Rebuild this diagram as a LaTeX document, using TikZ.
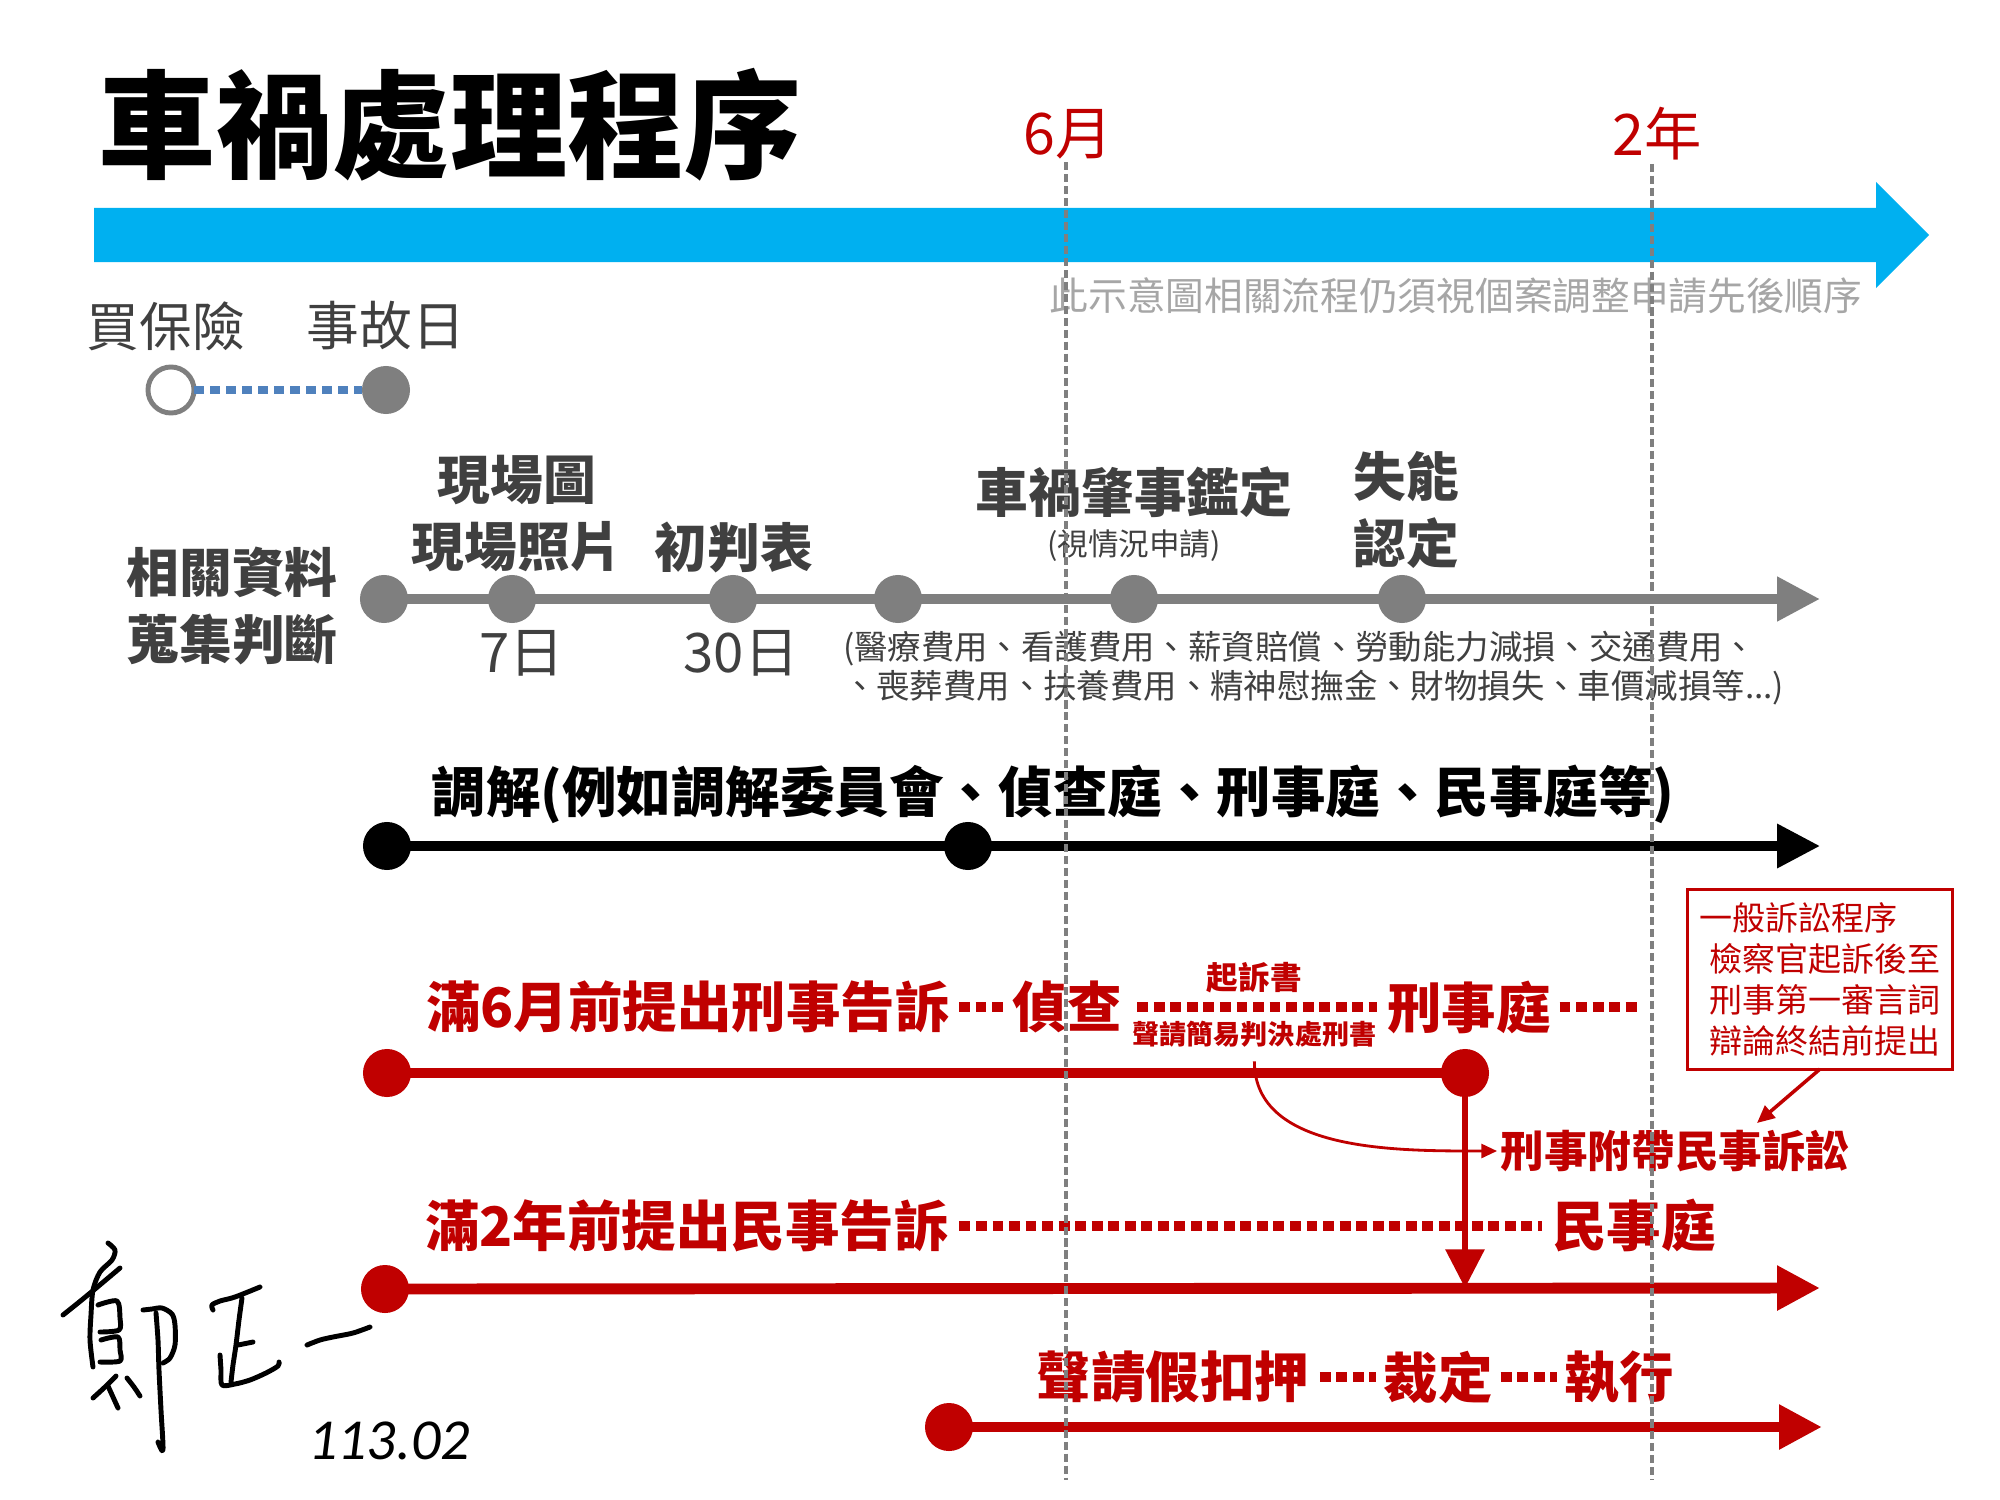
\documentclass[tikz,border=0pt]{standalone}
\usepackage{fontspec}
\setmainfont{Noto Sans CJK TC}
\newfontfamily\datefont{Carlito}
\usetikzlibrary{arrows.meta,positioning}
\definecolor{tlblue}{HTML}{00B0F0}
\definecolor{tlred}{HTML}{C00000}
\definecolor{tlgray}{HTML}{7F7F7F}
\definecolor{txgray}{HTML}{404040}
\definecolor{notegray}{HTML}{A6A6A6}
\definecolor{dotblue}{HTML}{4F81BD}
\tikzstyle{every node}=[inner sep=0pt, outer sep=0pt]
\tikzstyle{ttl}=[font=\fontsize{33.3}{40}\selectfont\bfseries]
\tikzstyle{tmark}=[text=tlred, font=\fontsize{16.3}{20}\selectfont]
\tikzstyle{note}=[text=notegray, font=\fontsize{11}{13}\selectfont]
\tikzstyle{dgreg}=[text=txgray, font=\fontsize{15}{19}\selectfont]
\tikzstyle{dgbold}=[text=txgray, align=center, font=\fontsize{15}{19.06}\selectfont\bfseries]
\tikzstyle{days}=[text=txgray, font=\fontsize{15.5}{19}\selectfont]
\tikzstyle{tinylbl}=[text=txgray, font=\fontsize{8.7}{10}\selectfont]
\tikzstyle{det}=[text=txgray, align=left, font=\fontsize{9.5}{11.1}\selectfont]
\tikzstyle{blk}=[font=\fontsize{15.5}{19}\selectfont\bfseries]
\tikzstyle{rbig}=[text=tlred, font=\fontsize{15.5}{19}\selectfont\bfseries]
\tikzstyle{rmid}=[text=tlred, font=\fontsize{12.4}{15}\selectfont\bfseries]
\tikzstyle{rsml}=[text=tlred, font=\fontsize{9}{11}\selectfont\bfseries]
\tikzstyle{rxs}=[text=tlred, font=\fontsize{7.7}{9}\selectfont\bfseries]
\tikzstyle{rbox}=[draw=tlred, line width=0.85pt, text=tlred, align=left, minimum width=2.64cm, minimum height=1.79cm, font=\fontsize{9.4}{11.6}\selectfont]
\tikzstyle{tdot}=[circle, minimum size=4.8mm]
\tikzstyle{gdot}=[tdot, fill=tlgray]
\tikzstyle{bdot}=[tdot, fill=black]
\tikzstyle{rdot}=[tdot, fill=tlred]
\tikzstyle{odot}=[circle, minimum size=4.6mm, draw=tlgray, line width=1.4pt, fill=white]
\tikzstyle{arrtip}=[-{Triangle[length=12.2pt,width=12pt]}]
\tikzstyle{gline}=[tlgray, line width=2.85pt, arrtip]
\tikzstyle{bline}=[black, line width=2.6pt, arrtip]
\tikzstyle{rline}=[tlred, line width=3.1pt]
\tikzstyle{rdots}=[tlred, line width=2.8pt, dash pattern=on 3.1pt off 1.6pt]
\tikzstyle{bdots}=[dotblue, line width=2.3pt, dash pattern=on 2.85pt off 1.7pt]
\tikzstyle{vdash}=[tlgray, line width=1.3pt, dash pattern=on 2.3pt off 1.1pt]
\tikzstyle{rvert}=[tlred, line width=1.8pt, -{Triangle[length=11pt,width=10.8pt]}]
\tikzstyle{rthin}=[tlred, line width=0.8pt, -{Triangle[length=4.5pt,width=4pt]}]
\tikzstyle{sig}=[line width=1.4pt, line cap=round, line join=round]
\tikzstyle{datelbl}=[font=\datefont\itshape\fontsize{16.5}{20}\selectfont]

\begin{document}
\begin{tikzpicture}[x=0.01cm, y=-0.01cm]
\fill[white] (0,0) rectangle (2000,1500);
\useasboundingbox (0,0) rectangle (2000,1500);

\node[ttl] (ttl) at (450,125) {車禍處理程序};
\node[tmark] (m6) at (1068,134) {6月};
\node[tmark] (y2) at (1657,134) {2年};
\fill[tlblue] (94,208) -- (1876,208) -- (1876,182) -- (1929,235) -- (1876,288) -- (1876,262) -- (94,262) -- cycle;
\node[note] (nt) at (1456,296) {此示意圖相關流程仍須視個案調整申請先後順序};

\node[dgreg] (buy) at (166,326) {買保險};
\node[dgreg] (day) at (386,326) {事故日};
\node[odot] (ins) at (171,390) {};
\node[gdot] (acc) at (386,390) {};
\draw[bdots] (ins) -- (acc);

\node[dgbold] (rel) at (232,605.5) {相關資料\\蒐集判斷};
\foreach \n/\x in {1/384,2/512,3/733,4/898,5/1134,6/1402}
	\node[gdot] (g\n) at (\x,599) {};
\coordinate (gend) at (1820,599);
\draw[gline] (g1.center) -- (gend);
\node[dgbold] (scn) at (517,513.5) {現場圖\\現場照片};
\node[dgbold] (prj) at (734,547) {初判表};
\node[dgbold] (idn) at (1134,492) {車禍肇事鑑定};
\node[tinylbl] (opt) at (1134,546) {(視情況申請)};
\node[dgbold] (dis) at (1406,509.5) {失能\\認定};
\node[days] (d7) at (522,653) {7日};
\node[days] (d30) at (741,653) {30日};
\node[det, anchor=west] (cost) at (843,668.5) {(醫療費用、看護費用、薪資賠償、勞動能力減損、交通費用、\\、喪葬費用、扶養費用、精神慰撫金、財物損失、車價減損等...)};

\node[blk] (med) at (1053,794) {調解(例如調解委員會、偵查庭、刑事庭、民事庭等)};
\node[bdot] (b1) at (387,846) {};
\node[bdot] (b2) at (968,846) {};
\coordinate (bend) at (1820,846);
\draw[bline] (b1.center) -- (bend);

\node[rbig] (crim) at (688,1007) {滿6月前提出刑事告訴};
\node[rbig] (inv) at (1067,1007) {偵查};
\node[rbig] (ccourt) at (1469,1007) {刑事庭};
\coordinate (cdots) at (1637,1007);
\draw[rdots, shorten <=2.6pt, shorten >=2.3pt] (crim) -- (inv);
\draw[rdots, shorten <=4.5pt, shorten >=3pt] (inv) -- (ccourt)
	node[midway, above=4pt, rsml] (ind) {起訴書}
	node[midway, below=4pt, rxs] (sp) {聲請簡易判決處刑書};
\draw[rdots, shorten <=2.5pt] (ccourt) -- (cdots);
\node[rdot] (r1) at (387,1073) {};
\node[rdot] (r2) at (1465,1073) {};
\draw[rline] (r1.center) -- (r2.center);
\node[rmid] (fa) at (1675,1151) {刑事附帶民事訴訟};
\draw[rthin, shorten <=4pt, shorten >=1pt] (sp.south) to[out=-90, in=180] (fa.west);
\node[rbox] (law) at (1820,979.5) {一般訴訟程序\\\hspace{2.8pt}檢察官起訴後至\\\hspace{2.8pt}刑事第一審言詞\\\hspace{2.8pt}辯論終結前提出};
\coordinate (lawtip) at (1757,1123);
\draw[rthin, line width=1pt, -{Triangle[length=5pt,width=4.5pt]}] (law.south) -- (lawtip);

\node[rbig] (civ) at (687,1226) {滿2年前提出民事告訴};
\node[rbig] (ccv) at (1634,1226) {民事庭};
\draw[rdots, shorten <=3pt, shorten >=3pt] (civ) -- (ccv);
\node[rdot] (r3) at (385,1289) {};
\coordinate (r3end) at (1820,1288);
\draw[rline, arrtip] (r3.center) -- (r3end);
\coordinate (cv) at (1465,1288);
\draw[rvert] (r2.center) -- (cv);

\node[rbig] (att) at (1173,1377) {聲請假扣押};
\node[rbig] (rul) at (1438,1377) {裁定};
\node[rbig] (exe) at (1619,1377) {執行};
\draw[rdots, shorten <=3pt, shorten >=2pt] (att) -- (rul);
\draw[rdots, shorten <=2.3pt, shorten >=2pt] (rul) -- (exe);
\node[rdot] (r4) at (949,1427) {};
\coordinate (r4end) at (1822,1427);
\draw[rline, arrtip] (r4.center) -- (r4end);

\draw[sig] plot[smooth] coordinates {(63,1315) (78,1303) (95,1289) (120,1268)};
\draw[sig] plot[smooth] coordinates {(108,1243) (115,1250) (112,1260) (100,1272) (93,1290) (91,1315) (90,1340) (93,1367)};
\draw[sig] plot[smooth] coordinates {(98,1305) (117,1301) (120,1318) (119,1330) (100,1332)};
\draw[sig] plot[smooth] coordinates {(101,1340) (118,1337) (120,1350) (120,1361) (100,1362)};
\draw[sig] plot[smooth] coordinates {(93,1398) (105,1387) (116,1376)};
\draw[sig] plot[smooth] coordinates {(108,1386) (113,1397) (118,1408)};
\draw[sig] plot[smooth] coordinates {(127,1378) (134,1387) (140,1396)};
\draw[sig] plot[smooth] coordinates {(143,1310) (152,1309) (162,1308) (172,1314) (175,1325) (175,1345) (170,1358) (163,1363)};
\draw[sig] plot[smooth] coordinates {(156,1313) (158,1340) (159,1370) (161,1410) (163,1450) (158,1442)};
\draw[sig] plot[smooth] coordinates {(213,1310) (212,1305) (220,1301) (235,1297) (260,1287)};
\draw[sig] plot[smooth] coordinates {(242,1298) (239,1320) (236,1345) (233,1365) (231,1382)};
\draw[sig] plot[smooth] coordinates {(220,1355) (221,1370) (222,1385) (235,1384) (250,1380) (266,1373) (278,1366) (279,1362)};
\draw[sig] plot[smooth] coordinates {(238,1345) (253,1342)};
\draw[sig] plot[smooth] coordinates {(307,1345) (320,1340) (333,1337) (353,1333) (370,1327)};
\node[datelbl] (dt) at (389,1441) {113.02};

\coordinate (m6b) at (1066,1480);
\coordinate (y2b) at (1652,1480);
\draw[vdash, shorten <=1pt] (m6b |- m6.south) -- (m6b);
\draw[vdash, shorten <=1pt] (y2b |- y2.south) -- (y2b);
\end{tikzpicture}
\end{document}
